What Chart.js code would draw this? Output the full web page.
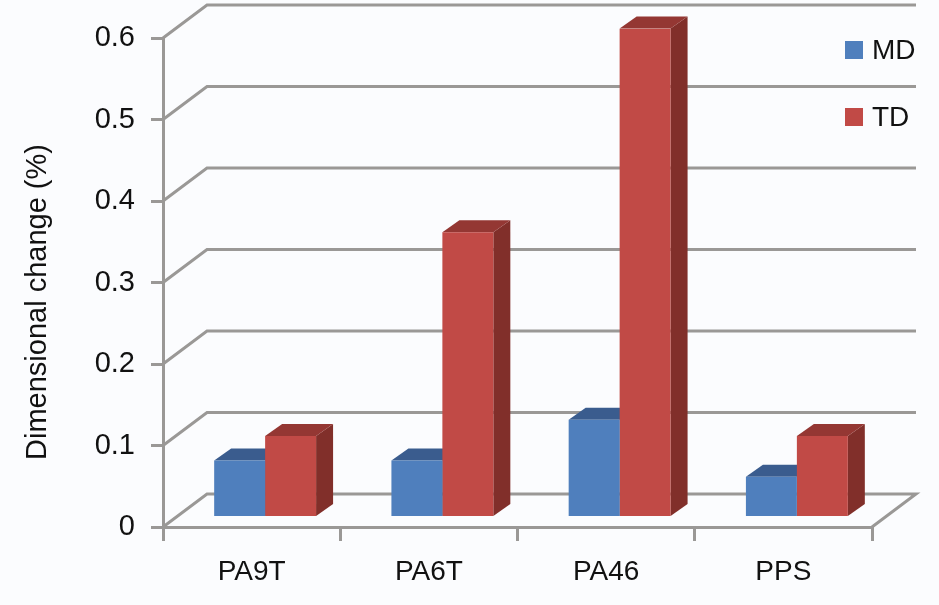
<!DOCTYPE html>
<html>
<head>
<meta charset="utf-8">
<title>Dimensional change</title>
<style>
  html, body { margin: 0; padding: 0; background: #fbfcfe; }
  canvas { display: block; }
</style>
</head>
<body>
<canvas id="grafico" width="939" height="605"></canvas>
<script src="https://cdn.jsdelivr.net/npm/chart.js@4/dist/chart.umd.js"></script>
<script>
const categories = ['PA9T', 'PA6T', 'PA46', 'PPS'];
const mdValues = [0.07, 0.07, 0.12, 0.05];
const tdValues = [0.1, 0.35, 0.6, 0.1];
const yTitle = 'Dimensional change (%)';

const FONT = '"Liberation Sans", Arial, sans-serif';
const GRID = '#9a9896';

// profundidad del "3D" y desplazamiento de las barras sobre el piso
const wall = { dx: 44, dy: -33 };
const bar = { dx: 13.5, dy: -9.5, sideX: 17, sideY: -12 };

function poly(ctx, color, pts) {
    ctx.fillStyle = color;
    ctx.beginPath();
    pts.forEach((p, i) => i ? ctx.lineTo(p[0], p[1]) : ctx.moveTo(p[0], p[1]));
    ctx.closePath();
    ctx.fill();
}

const fake3d = {
    id: 'fake3d',
    beforeDatasetsDraw(chart) {
        const { ctx, chartArea, scales } = chart;
        // paredes: diagonal desde el eje y linea horizontal al fondo
        ctx.save();
        ctx.strokeStyle = GRID;
        ctx.lineWidth = 3;
        scales.y.ticks.forEach(t => {
            const y = scales.y.getPixelForValue(t.value);
            ctx.beginPath();
            ctx.moveTo(chartArea.left, y);
            ctx.lineTo(chartArea.left + wall.dx, y + wall.dy);
            ctx.lineTo(chartArea.right + wall.dx, y + wall.dy);
            if (t.value === 0) ctx.lineTo(chartArea.right, y);
            ctx.stroke();
        });
        ctx.restore();

        ctx.save();
        ctx.translate(bar.dx, bar.dy);
        // caras superior y lateral, todas antes de los frentes
        chart.data.datasets.forEach((ds, i) => {
            chart.getDatasetMeta(i).data.forEach(el => {
                const l = el.x - el.width / 2, r = el.x + el.width / 2;
                poly(ctx, ds.sideColor, [[r, el.y], [r + bar.sideX, el.y + bar.sideY], [r + bar.sideX, el.base + bar.sideY], [r, el.base]]);
                poly(ctx, ds.topColor, [[l, el.y], [l + bar.sideX, el.y + bar.sideY], [r + bar.sideX, el.y + bar.sideY], [r, el.y]]);
            });
        });
    },
    afterDatasetsDraw(chart) {
        const { ctx } = chart;
        ctx.restore();

        // titulo del eje (va corrido respecto al centro del area)
        ctx.save();
        ctx.translate(38, 302);
        ctx.rotate(-Math.PI / 2);
        ctx.font = '29px ' + FONT;
        ctx.fillStyle = '#111';
        ctx.textAlign = 'center';
        ctx.textBaseline = 'middle';
        ctx.fillText(yTitle, 0, 0);
        ctx.restore();

        // leyenda
        ctx.save();
        ctx.font = '28px ' + FONT;
        ctx.textBaseline = 'middle';
        chart.data.datasets.forEach((ds, i) => {
            const y = 50 + i * 67;
            ctx.fillStyle = ds.backgroundColor;
            ctx.fillRect(845, y - 9, 18, 18);
            ctx.fillStyle = '#111';
            ctx.fillText(ds.label, 872, y + 1);
        });
        ctx.restore();
    }
};

new Chart(document.getElementById('grafico'), {
    type: 'bar',
    data: {
        labels: categories,
        datasets: [
            { label: 'MD', data: mdValues, backgroundColor: '#4f7fbd', sideColor: '#37567f', topColor: '#3a5c8e' },
            { label: 'TD', data: tdValues, backgroundColor: '#c14a46', sideColor: '#812f2a', topColor: '#943733' }
        ]
    },
    options: {
        responsive: false,
        animation: false,
        layout: { padding: { top: 38, right: 67 } },
        categoryPercentage: 0.575,
        barPercentage: 1,
        plugins: { legend: { display: false }, tooltip: { enabled: false } },
        scales: {
            x: {
                afterFit: s => { s.height = 78; },
                border: { color: GRID, width: 3 },
                grid: { drawOnChartArea: false, color: GRID, lineWidth: 3, tickLength: 14 },
                ticks: { color: '#111', padding: 14, maxRotation: 0, font: { family: FONT, size: 28 } }
            },
            y: {
                min: 0,
                max: 0.6,
                afterFit: s => { s.width = 163; },
                border: { color: GRID, width: 3 },
                grid: { drawOnChartArea: false, color: GRID, lineWidth: 3, tickLength: 12 },
                ticks: { stepSize: 0.1, color: '#111', padding: 16, font: { family: FONT, size: 29 } }
            }
        }
    },
    plugins: [fake3d]
});
</script>
</body>
</html>
